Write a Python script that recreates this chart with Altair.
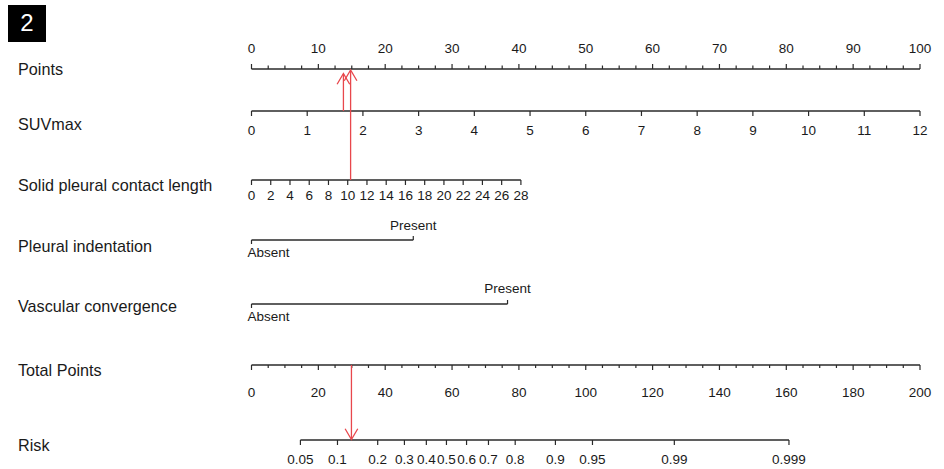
import math
import altair as alt
import pandas as pd

# ---------------- values ----------------
points_major = [0, 10, 20, 30, 40, 50, 60, 70, 80, 90, 100]
points_minor = [i * 2.5 for i in range(41) if (i * 2.5) % 10 != 0]

suv_ticks = [0, 1, 2, 3, 4, 5, 6, 7, 8, 9, 10, 11, 12]          # SUVmax 12 -> 100 points
spcl_ticks = [0, 2, 4, 6, 8, 10, 12, 14, 16, 18, 20, 22, 24, 26, 28]
spcl_points_max = 40.3                                            # points at SPCL = 28

pi_levels = ["Absent", "Present"]
pi_points = [0, 24.2]
vc_levels = ["Absent", "Present"]
vc_points = [0, 38.3]

total_major = [0, 20, 40, 60, 80, 100, 120, 140, 160, 180, 200]
total_minor = [v for v in range(0, 201, 5) if v % 20 != 0]

risk_ticks = [0.05, 0.1, 0.2, 0.3, 0.4, 0.5, 0.6, 0.7, 0.8, 0.9, 0.95, 0.99, 0.999]
risk_labels = ["0.05", "0.1", "0.2", "0.3", "0.4", "0.5", "0.6", "0.7", "0.8",
               "0.9", "0.95", "0.99", "0.999"]
risk_b0 = -3.931      # linear predictor at 0 total points
risk_b1 = 0.0674      # per total point

row_names = ["Points", "SUVmax", "Solid pleural contact length", "Pleural indentation",
             "Vascular convergence", "Total Points", "Risk"]

example_suv = 1.65
example_spcl = 10.3
example_total = 29.9

# ---------------- layout / style ----------------
W, H = 944, 469
X0, X1 = 251.5, 920
FONT = "Liberation Sans"
INK = "#1a1a1a"
LINE = "#2a2a2a"
RED = "#e8474c"
TICK_FS = 13.5
ROW_FS = 16.2

row_y = [70, 125, 186, 247, 307, 371, 446]

pts_scale = alt.Scale(domain=[0, 100], range=[X0, X1])
suv_scale = alt.Scale(domain=[0, 12], range=[X0, X1])
spcl_scale = alt.Scale(domain=[0, 28], range=[X0, X0 + (X1 - X0) * spcl_points_max / 100])
tot_scale = alt.Scale(domain=[0, 200], range=[X0, X1])

layers = []


def hline(lo, hi, scale, y, sw=1.4):
    df = pd.DataFrame({"lo": [lo], "hi": [hi]})
    return alt.Chart(df).mark_rule(color=LINE, strokeWidth=sw).encode(
        x=alt.X("lo:Q", scale=scale, axis=None), x2="hi:Q", y=alt.value(y))


def ticks(vals, scale, y0, y1, sw=1.2):
    df = pd.DataFrame({"v": vals})
    return alt.Chart(df).mark_rule(color=LINE, strokeWidth=sw).encode(
        x=alt.X("v:Q", scale=scale, axis=None), y=alt.value(y0), y2=alt.value(y1))


def labels(vals, texts, scale, y, size=TICK_FS, align="center", dx=0):
    df = pd.DataFrame({"v": vals, "t": texts})
    return alt.Chart(df).mark_text(font=FONT, fontSize=size, color=INK, align=align,
                                   baseline="middle", dx=dx).encode(
        x=alt.X("v:Q", scale=scale, axis=None), y=alt.value(y), text="t:N")


# Points
layers += [hline(0, 100, pts_scale, 69, 1.6),
           ticks(points_major, pts_scale, 64, 69),
           ticks(points_minor, pts_scale, 65.5, 69),
           labels(points_major, [str(v) for v in points_major], pts_scale, 49)]
# SUVmax
layers += [hline(0, 12, suv_scale, 111),
           ticks(suv_ticks, suv_scale, 111, 116),
           labels(suv_ticks, [str(v) for v in suv_ticks], suv_scale, 131)]
# Solid pleural contact length
layers += [hline(0, 28, spcl_scale, 180),
           ticks(spcl_ticks, spcl_scale, 180, 185),
           labels(spcl_ticks, [str(v) for v in spcl_ticks], spcl_scale, 196)]
# Pleural indentation
layers += [hline(pi_points[0], pi_points[1], pts_scale, 240),
           ticks([pi_points[0]], pts_scale, 240, 244),
           ticks([pi_points[1]], pts_scale, 236, 240),
           labels([pi_points[0]], [pi_levels[0]], pts_scale, 253, align="left", dx=-4),
           labels([pi_points[1]], [pi_levels[1]], pts_scale, 226)]
# Vascular convergence
layers += [hline(vc_points[0], vc_points[1], pts_scale, 304),
           ticks([vc_points[0]], pts_scale, 304, 308),
           ticks([vc_points[1]], pts_scale, 300, 304),
           labels([vc_points[0]], [vc_levels[0]], pts_scale, 317, align="left", dx=-4),
           labels([vc_points[1]], [vc_levels[1]], pts_scale, 289)]
# Total Points
layers += [hline(0, 200, tot_scale, 365, 1.6),
           ticks(total_major, tot_scale, 365, 370),
           ticks(total_minor, tot_scale, 365, 368),
           labels(total_major, [str(v) for v in total_major], tot_scale, 393)]
# Risk (positioned on the total-points scale through the logistic model)
risk_tp = [(math.log(p / (1 - p)) - risk_b0) / risk_b1 for p in risk_ticks]
layers += [hline(risk_tp[0], risk_tp[-1], tot_scale, 440),
           ticks(risk_tp, tot_scale, 440, 445),
           labels(risk_tp, risk_labels, tot_scale, 460)]

# Row titles
names_df = pd.DataFrame({"name": row_names, "y": row_y})
layers.append(alt.Chart(names_df).mark_text(font=FONT, fontSize=ROW_FS, color=INK, align="left",
                                            baseline="middle").encode(
    x=alt.value(18), y=alt.Y("y:Q", scale=None, axis=None), text="name:N"))

# Panel tag "2"
tag_df = pd.DataFrame({"t": ["2"]})
layers.append(alt.Chart(tag_df).mark_rect(color="black").encode(
    x=alt.value(8), x2=alt.value(46), y=alt.value(5), y2=alt.value(42)))
layers.append(alt.Chart(tag_df).mark_text(font=FONT, fontSize=24, color="white",
                                          baseline="middle").encode(
    x=alt.value(27), y=alt.value(24), text="t:N"))

# Red arrows
UP = "M -1 1.7 L 0 0 L 1 1.7"
DOWN = "M -1 -1.7 L 0 0 L 1 -1.7"
suv_df = pd.DataFrame({"v": [example_suv]})
spcl_df = pd.DataFrame({"v": [example_spcl]})
tot_df = pd.DataFrame({"v": [example_total]})
layers += [
    alt.Chart(suv_df).mark_rule(color=RED, strokeWidth=1.3).encode(
        x=alt.X("v:Q", scale=suv_scale, axis=None), y=alt.value(111), y2=alt.value(74)),
    alt.Chart(suv_df).mark_point(shape=UP, size=160, filled=False, color=RED, strokeWidth=1.3,
                                 opacity=1).encode(
        x=alt.X("v:Q", scale=suv_scale, axis=None), y=alt.value(73.5)),
    alt.Chart(spcl_df).mark_rule(color=RED, strokeWidth=1.3).encode(
        x=alt.X("v:Q", scale=spcl_scale, axis=None), y=alt.value(180), y2=alt.value(71)),
    alt.Chart(spcl_df).mark_point(shape=UP, size=160, filled=False, color=RED, strokeWidth=1.3,
                                  opacity=1).encode(
        x=alt.X("v:Q", scale=spcl_scale, axis=None), y=alt.value(70)),
    alt.Chart(tot_df).mark_rule(color=RED, strokeWidth=1.3).encode(
        x=alt.X("v:Q", scale=tot_scale, axis=None), y=alt.value(365), y2=alt.value(438)),
    alt.Chart(tot_df).mark_point(shape=DOWN, size=160, filled=False, color=RED, strokeWidth=1.3,
                                 opacity=1).encode(
        x=alt.X("v:Q", scale=tot_scale, axis=None), y=alt.value(439.5)),
]

chart = alt.layer(*layers).resolve_scale(x="independent").properties(
    width=W, height=H, padding=0, autosize=alt.AutoSizeParams(type="none"),
    background="white"
).configure_view(stroke=None)

chart.save("out.html", embed_options={"renderer": "svg", "actions": False})
